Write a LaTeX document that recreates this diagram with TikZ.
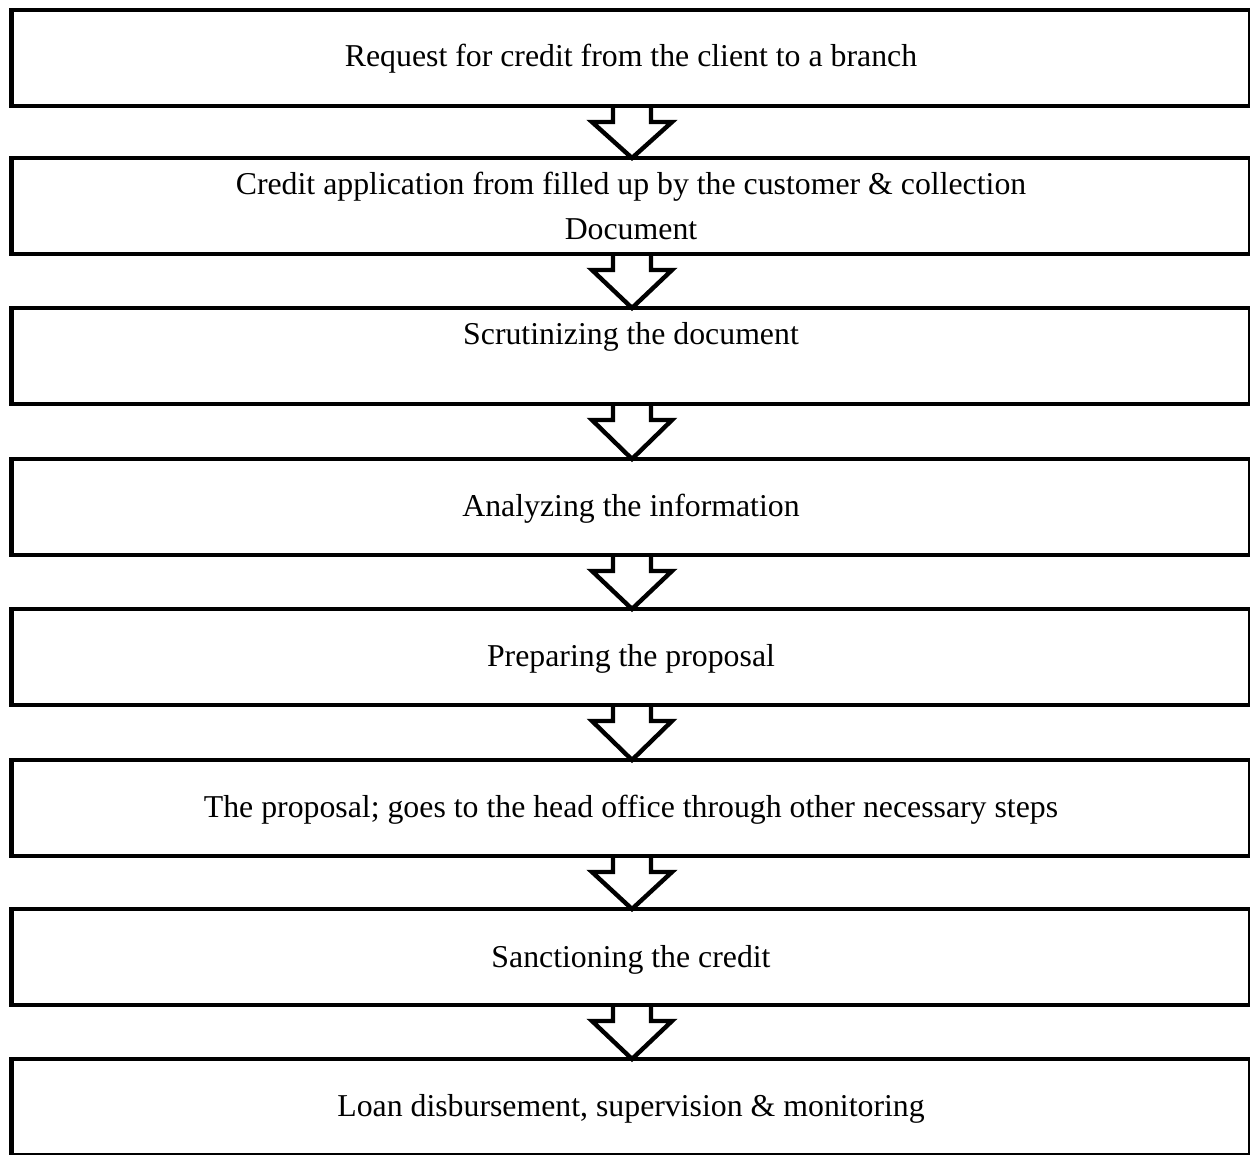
\documentclass[tikz,border=0pt]{standalone}
\usepackage{fontspec}
\setmainfont{Liberation Serif}
\usetikzlibrary{calc}
\newcommand\flowarrow[2]{%
  \draw[blockarrow] ($(#1.south -| axis)+(-19,0)$) -- ++(0,16) -- ++(-21,0)
    -- (#2.north -| axis) -- ($(#1.south -| axis)+(40,16)$) -- ++(-21,0) -- ++(0,-16);}
\begin{document}
\begin{tikzpicture}[x=0.5pt,y=-0.5pt,
  box/.style={draw=black, line width=2.2pt, rectangle, outer sep=0pt, inner sep=0pt,
    minimum width=619.25pt, minimum height=48pt},
  lbl/.style={anchor=base, inner sep=0pt, font=\fontsize{15.9}{22.5}\selectfont},
  blockarrow/.style={draw=black, line width=2.2pt, line join=miter}]
\useasboundingbox (0,0) rectangle (1250,1155);
\clip (0,0) rectangle (1250,1155);
\coordinate (axis) at (632,0);
\node[box] (b1) at (630.75,58) {};
\node[box] (b2) at (630.75,206) {};
\node[box] (b3) at (630.75,356) {};
\node[box] (b4) at (630.75,507) {};
\node[box] (b5) at (630.75,657) {};
\node[box] (b6) at (630.75,808) {};
\node[box] (b7) at (630.75,957) {};
\node[box] (b8) at (630.75,1107) {};
\node[lbl] (t1) at (631,67) {Request for credit from the client to a branch};
\node[lbl] (t2a) at (631,195) {Credit application from filled up by the customer \& collection};
\node[lbl] (t2b) at (631,240) {Document};
\node[lbl] (t3) at (631,345) {Scrutinizing the document};
\node[lbl] (t4) at (631,517) {Analyzing the information};
\node[lbl] (t5) at (631,667) {Preparing the proposal};
\node[lbl] (t6) at (631,818) {The proposal; goes to the head office through other necessary steps};
\node[lbl] (t7) at (631,967) {Sanctioning the credit};
\node[lbl] (t8) at (631,1116) {Loan disbursement, supervision \& monitoring};
\flowarrow{b1}{b2}
\flowarrow{b2}{b3}
\flowarrow{b3}{b4}
\flowarrow{b4}{b5}
\flowarrow{b5}{b6}
\flowarrow{b6}{b7}
\flowarrow{b7}{b8}
\end{tikzpicture}
\end{document}
